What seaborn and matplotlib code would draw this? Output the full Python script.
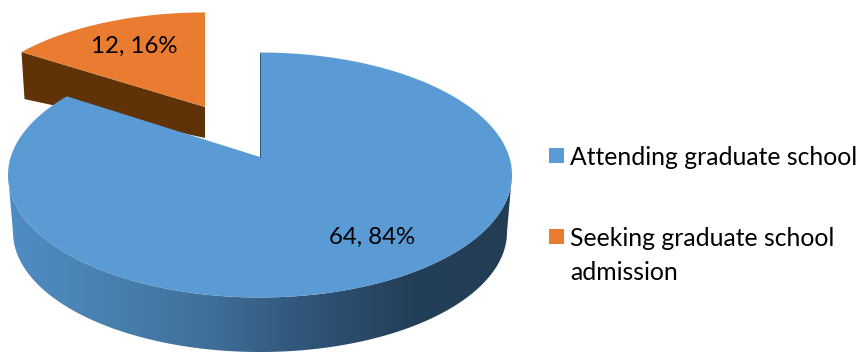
import numpy as np
import matplotlib
matplotlib.use("Agg")
import matplotlib.pyplot as plt
from matplotlib.patches import Polygon, Rectangle
import seaborn as sns

# Survey responses
categories = ["Attending graduate school", "Seeking graduate school\nadmission"]
counts = [64, 12]

top_colors = ["#5B9BD5", "#E97C30"]
rim_stops = ["#4F8DC6", "#4A80AE", "#3F6F99", "#2F5477", "#243F58", "#233D55"]
wedge_side_color = "#603208"

sns.set_theme(style="white")
plt.rcParams["font.family"] = ["Lato", "DejaVu Sans"]

fig, ax = plt.subplots(figsize=(8.6, 3.52), dpi=100)
fig.subplots_adjust(0, 0, 1, 1)

# Ellipse of the tilted disc and how far the perspective lifts its hub
cx, cy, rx, ry = 260.0, 175.0, 252.0, 122.5
hub_shift = 0.147
bottom_cx, bottom_cy, bottom_rx, bottom_ry = 260.0, 232.0, 247.0, 120.0


def project(theta, radius=1.0):
    """Map a clockwise-from-north pie angle onto the tilted disc."""
    u, v = radius * np.sin(theta), radius * np.cos(theta)
    den = 1 + hub_shift * v
    pu = u * np.sqrt(1 - hub_shift ** 2) / den
    pv = (v + hub_shift) / den
    return np.column_stack([cx + rx * pu, cy - ry * pv])


fractions = np.array(counts) / sum(counts)
sweeps = 2 * np.pi * fractions
hub = project(np.array([0.0]), 0.0)[0]

# Rim of the large slice: front half of the disc, shaded left to right
t = np.linspace(0, np.pi, 200)
upper = np.column_stack([cx + rx * np.cos(t), cy + ry * np.sin(t)])
lower = np.column_stack([bottom_cx + bottom_rx * np.cos(t), bottom_cy + bottom_ry * np.sin(t)])
rim = Polygon(np.vstack([upper, lower[::-1]]), closed=True, fc="none", ec="none")
ax.add_patch(rim)
rim_cmap = sns.blend_palette(rim_stops, 256, as_cmap=True)
shade = ax.imshow(np.linspace(0, 1, 256)[None, :], cmap=rim_cmap, aspect="auto",
                  extent=(8, 512, 352, 170), zorder=1)
shade.set_clip_path(rim)
ax.set_xlim(0, 860)
ax.set_ylim(352, 0)
ax.axis("off")

# Pulled-out small slice, its cut face showing below the top surface
small_angles = np.linspace(sweeps[0], 2 * np.pi, 60)
pull_x, pull_y = -55.0, -50.0
shrink_x, shrink_y = 0.95, 0.905
small_edge = project(small_angles)
small_edge = np.column_stack([hub[0] + pull_x + shrink_x * (small_edge[:, 0] - hub[0]),
                              hub[1] + pull_y + shrink_y * (small_edge[:, 1] - hub[1])])
small_hub = hub + np.array([pull_x, pull_y])
corner = small_edge[0]
cut_face = [corner, small_hub, small_hub + [0, 31], corner + [3, 47]]
ax.add_patch(Polygon(cut_face, closed=True, fc=wedge_side_color, ec="none", zorder=2))
ax.add_patch(Polygon(np.vstack([small_hub, small_edge]), closed=True,
                     fc=top_colors[1], ec="none", zorder=3))

# Top surface of the large slice
large_edge = project(np.linspace(0, sweeps[0], 240))
ax.add_patch(Polygon(np.vstack([hub, large_edge]), closed=True,
                     fc=top_colors[0], ec="none", zorder=4))
ax.plot([hub[0], large_edge[0, 0]], [hub[1], large_edge[0, 1]],
        color="#2F5D85", lw=0.7, zorder=5)

# Slice labels
label_spots = [(372, 237), (134, 46)]
for count, share, spot in zip(counts, fractions, label_spots):
    ax.text(*spot, f"{count}, {share * 100:.0f}%", ha="center", va="center",
            fontsize=17.3, color="black", zorder=6)

# Key at the right of the pie
key_tops = [148, 229]
for name, color, key_top in zip(categories, top_colors, key_tops):
    ax.add_patch(Rectangle((549, key_top), 15, 15, fc=color, ec="none"))
    ax.text(570, key_top - 2, name, ha="left", va="top", fontsize=17.8,
            color="black", linespacing=1.56)

fig.savefig("out.png", dpi=100)
